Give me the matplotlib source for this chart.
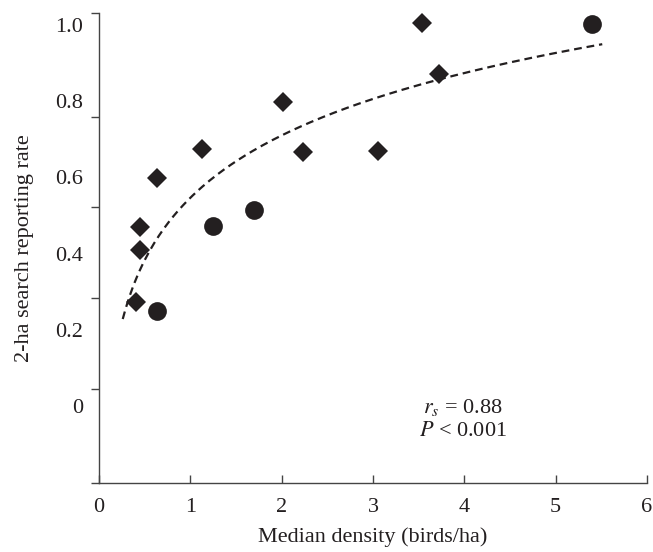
import numpy as np
import matplotlib
matplotlib.use("Agg")
import matplotlib.pyplot as plt

# ---- data ----
diamond_x = [3.54, 3.72, 2.02, 1.13, 2.23, 3.06, 0.63, 0.45, 0.45, 0.40]
diamond_y = [1.005, 0.871, 0.798, 0.675, 0.667, 0.669, 0.598, 0.470, 0.409, 0.273]
circle_x = [5.40, 1.70, 1.25, 0.63]
circle_y = [1.003, 0.514, 0.472, 0.249]

trend_x_range = [0.26, 5.51]

x_ticks = [0, 1, 2, 3, 4, 5, 6]
y_label_values = [0, 0.2, 0.4, 0.6, 0.8, 1.0]
y_label_texts = ["0", "0.2", "0.4", "0.6", "0.8", "1.0"]
# tick marks on the y axis (drawn offset from labels in the original)
y_tick_marks = [-0.202, 0.0446, 0.2835, 0.5223, 0.7585, 1.0315]

stat_lines = [r"$r_s$ = 0.88", r"$P$ < 0.001"]

INK = "#231f20"
FS = 16

plt.rcParams["font.family"] = ["Liberation Serif", "DejaVu Serif"]
plt.rcParams["mathtext.fontset"] = "stix"

fig = plt.figure(figsize=(6.53, 5.52), dpi=100)
ax = fig.add_axes([99 / 653, 69 / 552, 548 / 653, 470 / 552])

ax.plot(diamond_x, diamond_y, linestyle="none", marker="D", ms=10.0,
        color=INK, mew=0)
ax.plot(circle_x, circle_y, linestyle="none", marker="o", ms=13.5,
        color=INK, mew=0)

# logarithmic trend fitted to all points
all_x = np.array(diamond_x + circle_x)
all_y = np.array(diamond_y + circle_y)
b, a = np.polyfit(np.log(all_x), all_y, 1)
cx = np.linspace(trend_x_range[0], trend_x_range[1], 200)
ax.plot(cx, a + b * np.log(cx), color=INK, lw=1.6,
        linestyle=(0, (3.5, 2.2)))

ax.set_xlim(0, 6)
ax.set_ylim(-0.202, 1.0315)

for s in ["top", "right"]:
    ax.spines[s].set_visible(False)
for s in ["left", "bottom"]:
    ax.spines[s].set_color("#444444")
    ax.spines[s].set_linewidth(1.0)

ax.set_xticks(x_ticks)
ax.set_xticklabels([str(t) for t in x_ticks])
ax.set_xticks([0], minor=True)
ax.tick_params(axis="x", which="major", direction="in", length=6,
               width=1.0, color="#444444", pad=11, labelsize=FS,
               labelcolor=INK)
ax.tick_params(axis="x", which="minor", direction="out", length=5,
               width=1.0, color="#444444")

ax.set_yticks(y_label_values)
ax.set_yticklabels(y_label_texts)
ax.set_yticks(y_tick_marks, minor=True)
ax.tick_params(axis="y", which="major", length=0, pad=11.5,
               labelsize=FS, labelcolor=INK)
ax.tick_params(axis="y", which="minor", direction="out", length=6,
               width=1.0, color="#444444")

ax.set_xlabel("Median density (birds/ha)", fontsize=FS, color=INK)
ax.xaxis.set_label_coords(0.5, -0.094)
ax.set_ylabel("2-ha search reporting rate", fontsize=FS, color=INK)
ax.yaxis.set_label_coords(-0.118, 0.5)

ax.text(3.98, -0.005, stat_lines[0], fontsize=FS, color=INK,
        ha="center", va="center")
ax.text(3.98, -0.066, stat_lines[1], fontsize=FS, color=INK,
        ha="center", va="center")

fig.savefig("out.png", dpi=100)
